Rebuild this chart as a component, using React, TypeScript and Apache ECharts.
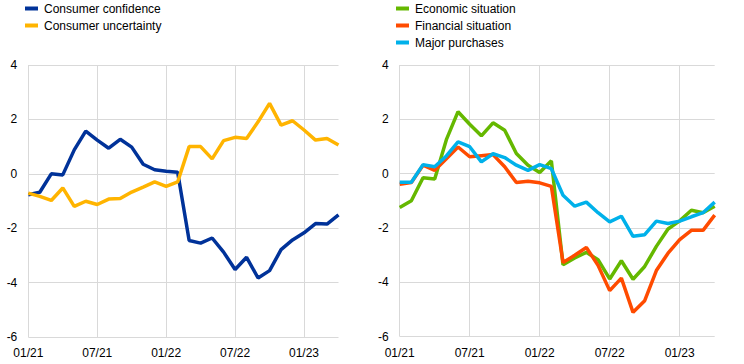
import React, { useEffect, useRef } from "react";
import * as echarts from "echarts";

const months: string[] = [
  "01/21", "02/21", "03/21", "04/21", "05/21", "06/21", "07/21", "08/21", "09/21", "10/21", "11/21", "12/21",
  "01/22", "02/22", "03/22", "04/22", "05/22", "06/22", "07/22", "08/22", "09/22", "10/22", "11/22", "12/22",
  "01/23", "02/23", "03/23", "04/23",
];

const consumerConfidence: number[] = [
  -0.77, -0.68, 0.0, -0.04, 0.88, 1.57, 1.24, 0.94, 1.27, 0.98, 0.35, 0.15, 0.09, 0.06,
  -2.45, -2.55, -2.36, -2.88, -3.52, -3.07, -3.83, -3.56, -2.79, -2.43, -2.17, -1.83, -1.85, -1.51,
];
const consumerUncertainty: number[] = [
  -0.71, -0.83, -0.98, -0.52, -1.2, -1.01, -1.13, -0.93, -0.91, -0.67, -0.49, -0.3, -0.46, -0.3,
  1.0, 1.0, 0.55, 1.22, 1.34, 1.3, 1.91, 2.59, 1.79, 1.95, 1.61, 1.24, 1.3, 1.06,
];
const economicSituation: number[] = [
  -1.25, -1.0, -0.15, -0.2, 1.25, 2.28, 1.82, 1.39, 1.87, 1.6, 0.74, 0.31, 0.04, 0.47,
  -3.36, -3.11, -2.9, -3.17, -3.88, -3.21, -3.89, -3.42, -2.68, -2.04, -1.74, -1.35, -1.44, -1.2,
];
const financialSituation: number[] = [
  -0.39, -0.33, 0.31, 0.12, 0.55, 0.98, 0.62, 0.66, 0.7, 0.25, -0.33, -0.28, -0.34, -0.47,
  -3.27, -3.01, -2.72, -3.38, -4.31, -3.85, -5.11, -4.68, -3.57, -2.93, -2.43, -2.09, -2.09, -1.53,
];
const majorPurchases: number[] = [
  -0.32, -0.32, 0.33, 0.25, 0.65, 1.17, 0.99, 0.43, 0.73, 0.59, 0.31, 0.12, 0.33, 0.18,
  -0.8, -1.2, -1.05, -1.44, -1.78, -1.57, -2.31, -2.25, -1.75, -1.84, -1.75, -1.59, -1.44, -1.05,
];

const FONT = "'Liberation Sans', Arial, sans-serif";
const GRID_COLOR = "#d9d9d9";

export default function App() {
  const ref = useRef<HTMLDivElement>(null);
  useEffect(() => {
    if (!ref.current) return;
    const chart = echarts.init(ref.current, undefined, { renderer: "svg" });
    const xAxisBase = (gridIndex: number) => ({
      type: "category" as const,
      gridIndex,
      data: months,
      boundaryGap: false,
      axisLine: { show: false },
      axisTick: { show: false },
      axisLabel: {
        interval: (i: number) => i % 6 === 0,
        color: "#000",
        fontSize: 12,
        fontFamily: FONT,
        margin: 10,
      },
      splitLine: {
        show: true,
        interval: (i: number) => i % 6 === 0,
        lineStyle: { color: GRID_COLOR, width: 1 },
      },
    });
    const yAxisBase = (gridIndex: number) => ({
      type: "value" as const,
      gridIndex,
      min: -6,
      max: 4,
      interval: 2,
      axisLine: { show: false },
      axisTick: { show: false },
      axisLabel: { color: "#000", fontSize: 12, fontFamily: FONT, margin: 11 },
      splitLine: { show: true, lineStyle: { color: GRID_COLOR, width: 1 } },
    });
    const line = (name: string, data: number[], color: string, idx: number) => ({
      name,
      type: "line" as const,
      xAxisIndex: idx,
      yAxisIndex: idx,
      data,
      symbol: "none",
      lineStyle: { color, width: 3.5 },
      itemStyle: { color },
    });
    const legendBase = {
      orient: "vertical" as const,
      icon: "rect",
      itemWidth: 13,
      itemHeight: 4,
      itemGap: 3,
      padding: 0,
      textStyle: { color: "#000", fontSize: 12, fontFamily: FONT, lineHeight: 14, padding: [0, 0, 0, 1] },
    };
    chart.setOption({
      animation: false,
      backgroundColor: "#fff",
      grid: [
        { left: 28.3, right: 405.5, top: 65, bottom: 27 },
        { left: 399.7, right: 29.3, top: 65, bottom: 27.5 },
      ],
      legend: [
        { ...legendBase, left: 25, top: 1.5, data: ["Consumer confidence", "Consumer uncertainty"] },
        { ...legendBase, left: 396, top: 1.5, data: ["Economic situation", "Financial situation", "Major purchases"] },
      ],
      xAxis: [xAxisBase(0), xAxisBase(1)],
      yAxis: [yAxisBase(0), yAxisBase(1)],
      series: [
        line("Consumer confidence", consumerConfidence, "#003299", 0),
        line("Consumer uncertainty", consumerUncertainty, "#ffb400", 0),
        line("Economic situation", economicSituation, "#65b800", 1),
        line("Financial situation", financialSituation, "#ff4b00", 1),
        line("Major purchases", majorPurchases, "#00b1ea", 1),
      ],
    });
    return () => chart.dispose();
  }, []);
  return <div ref={ref} style={{ width: 744, height: 364, position: "absolute", left: 0, top: 0 }} />;
}
